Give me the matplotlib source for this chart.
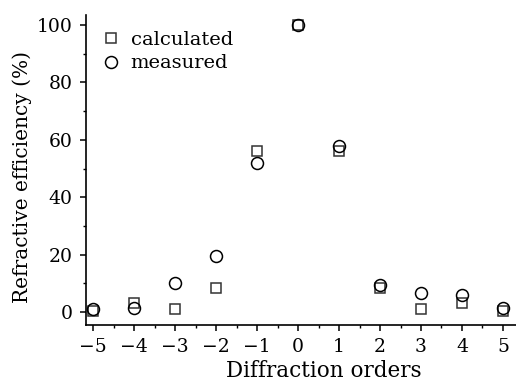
import matplotlib
matplotlib.use("Agg")
import matplotlib.pyplot as plt
from matplotlib.ticker import MultipleLocator

orders = [-5, -4, -3, -2, -1, 0, 1, 2, 3, 4, 5]
calculated = [0.5, 3.0, 1.0, 8.5, 56.0, 100.0, 56.0, 8.5, 1.0, 3.0, 0.5]
measured = [1.0, 1.5, 10.0, 19.5, 52.0, 100.0, 58.0, 9.5, 6.5, 6.0, 1.5]
xlabel = "Diffraction orders"
ylabel = "Refractive efficiency (%)"

plt.rcParams['font.family'] = ['DejaVu Serif']
plt.rcParams['mathtext.fontset'] = 'dejavuserif'

fig = plt.figure(figsize=(5.16, 3.86), dpi=100)
ax = fig.add_axes([86/516, (386-325)/386, (516-86)/516, (325-15)/386])

ax.plot(orders, calculated, linestyle='none', marker='s', markersize=7.5,
        markerfacecolor='none', markeredgecolor='#333333', markeredgewidth=1.1,
        label='calculated')
ax.plot(orders, measured, linestyle='none', marker='o', markersize=8.6,
        markerfacecolor='none', markeredgecolor='black', markeredgewidth=1.1,
        label='measured')

ax.set_xlim(-5.18, 5.32)
ax.set_ylim(-4.5, 103.5)
ax.xaxis.set_major_locator(MultipleLocator(1))
ax.xaxis.set_minor_locator(MultipleLocator(0.5))
ax.yaxis.set_major_locator(MultipleLocator(20))
ax.yaxis.set_minor_locator(MultipleLocator(10))

for s in ['top', 'right']:
    ax.spines[s].set_visible(False)
for s in ['left', 'bottom']:
    ax.spines[s].set_linewidth(1.2)

ax.tick_params(which='major', direction='out', length=4.5, width=1.1, labelsize=13.5, pad=5)
ax.tick_params(which='minor', direction='out', length=2.5, width=1.0)

ax.set_xlabel(xlabel, fontsize=15.5)
ax.xaxis.set_label_coords((324 - 86) / 430, -(371 - 325) / 310, transform=ax.transAxes)
ax.xaxis.label.set_va('center')
ax.set_ylabel(ylabel, fontsize=14.5)
ax.yaxis.set_label_coords(-(86 - 22) / 430, (386 - 177 - 61) / 310, transform=ax.transAxes)
ax.yaxis.label.set_va('center')

ax.legend(loc='upper left', bbox_to_anchor=(0.0, 1.0), frameon=False, fontsize=14,
          handlelength=1.0, handletextpad=0.5, labelspacing=0.3, borderaxespad=0.4,
          borderpad=0.4)

fig.savefig("out.png", dpi=100)
